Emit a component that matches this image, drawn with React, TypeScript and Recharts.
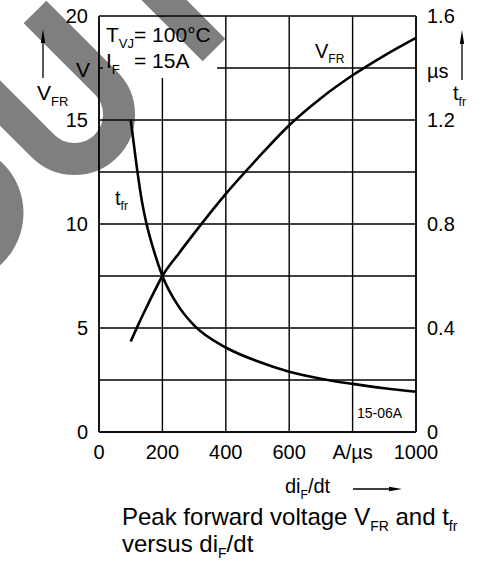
import React from "react";
import { LineChart, Line, XAxis, YAxis, CartesianGrid } from "recharts";

// di_F/dt (A/µs) and peak forward voltage V_FR (V)
const vfrDidt = [100, 125, 150, 175, 200, 250, 300, 400, 500, 600, 700, 800, 900, 1000];
const vfrVolts = [4.35, 5.2, 6.0, 6.77, 7.5, 8.55, 9.55, 11.45, 13.15, 14.75, 16.05, 17.15, 18.1, 18.95];

// di_F/dt (A/µs) and forward recovery time t_fr (µs)
const tfrDidt = [100, 118, 135, 150, 170, 200, 250, 300, 400, 500, 600, 700, 800, 900, 1000];
const tfrUs = [1.2, 1.03, 0.89, 0.8, 0.71, 0.6, 0.485, 0.41, 0.325, 0.272, 0.232, 0.205, 0.185, 0.168, 0.155];

const xTicks = [0, 200, 400, 600, 800, 1000];
const vTicks = [0, 2.5, 5, 7.5, 10, 12.5, 15, 17.5, 20];
const tTicks = [0, 0.4, 0.8, 1.2, 1.6];

const FONT = '"Liberation Sans", Arial, Helvetica, sans-serif';

const vfrRows = vfrDidt.map((x, i) => ({ x, v: vfrVolts[i] }));
const tfrRows = tfrDidt.map((x, i) => ({ x, t: tfrUs[i] }));

const tickStyle = { fontSize: 20, fill: "#000", fontFamily: FONT };

export default function App() {
  return (
    <div style={{ position: "absolute", left: 0, top: 0, width: 484, height: 571, background: "#fff", fontFamily: FONT }}>
      <LineChart width={484} height={571} margin={{ top: 16, right: 8, bottom: 109, left: 39 }}>
        <CartesianGrid yAxisId="v" xAxisId="x" stroke="#000" strokeWidth={1.4} />
        <XAxis
          xAxisId="x"
          dataKey="x"
          type="number"
          domain={[0, 1000]}
          ticks={xTicks}
          height={30}
          tickSize={0}
          tickMargin={13}
          axisLine={{ stroke: "#000", strokeWidth: 1.4 }}
          tickLine={false}
          tick={tickStyle}
          tickFormatter={(v: number) => (v === 800 ? "A/µs" : String(v))}
          interval={0}
        />
        <YAxis
          yAxisId="v"
          type="number"
          domain={[0, 20]}
          ticks={vTicks}
          width={60}
          tickSize={0}
          tickMargin={11}
          axisLine={{ stroke: "#000", strokeWidth: 1.4 }}
          tickLine={false}
          tick={tickStyle}
          interval={0}
          tickFormatter={(v: number) => (v % 5 === 0 ? String(v) : "")}
        />
        <YAxis
          yAxisId="t"
          orientation="right"
          type="number"
          domain={[0, 1.6]}
          ticks={tTicks}
          width={60}
          tickSize={0}
          tickMargin={11}
          axisLine={{ stroke: "#000", strokeWidth: 1.4 }}
          tickLine={false}
          tick={{ ...tickStyle, textAnchor: "start" }}
          interval={0}
          tickFormatter={(v: number) => (v === 0 ? "0" : v.toFixed(1))}
        />
        <Line
          xAxisId="x"
          yAxisId="v"
          data={vfrRows}
          dataKey="v"
          type="monotone"
          stroke="#000"
          strokeWidth={2.6}
          dot={false}
          activeDot={false}
          isAnimationActive={false}
        />
        <Line
          xAxisId="x"
          yAxisId="t"
          data={tfrRows}
          dataKey="t"
          type="monotone"
          stroke="#000"
          strokeWidth={2.6}
          dot={false}
          activeDot={false}
          isAnimationActive={false}
        />
      </LineChart>
      <svg
        width={484}
        height={571}
        style={{ position: "absolute", left: 0, top: 0, pointerEvents: "none" }}
        fontFamily={FONT}
      >
        {/* white box behind condition text */}
        <rect x={103} y={17} width={114} height={61} fill="#fff" />
        <text x={106} y={42} fontSize={21} fill="#000">
          T<tspan fontSize={13} dy={6}>VJ</tspan>
          <tspan dy={-6}>= 100°C</tspan>
        </text>
        <text x={106} y={68} fontSize={21} fill="#000">
          I<tspan fontSize={13} dy={6}>F</tspan>
          <tspan dy={-6} x={134}>= 15A</tspan>
        </text>

        {/* in-plot curve labels */}
        <text x={315} y={58} fontSize={20} fill="#000">
          V<tspan fontSize={12} dy={5}>FR</tspan>
        </text>
        <text x={115} y={205} fontSize={20} fill="#000">
          t<tspan fontSize={12} dy={5}>fr</tspan>
        </text>
        <text x={357} y={418} fontSize={14} fill="#000">15-06A</text>

        {/* left axis unit and label */}
        <text x={76} y={77} fontSize={21} fill="#000">V</text>
        <line x1={43} y1={40} x2={43} y2={78} stroke="#000" strokeWidth={1.3} />
        <polygon points="43,29 40.8,43 45.2,43" fill="#000" />
        <text x={37} y={100} fontSize={21} fill="#000">
          V<tspan fontSize={13} dy={6}>FR</tspan>
        </text>

        {/* right axis unit and label */}
        <text x={427} y={78} fontSize={20} fill="#000">µs</text>
        <line x1={462} y1={41} x2={462} y2={80} stroke="#000" strokeWidth={1.3} />
        <polygon points="462,30 459.8,44 464.2,44" fill="#000" />
        <text x={453} y={100} fontSize={20} fill="#000">
          t<tspan fontSize={12} dy={6}>fr</tspan>
        </text>

        {/* x axis label */}
        <text x={285} y={493} fontSize={20} fill="#000">
          di<tspan fontSize={12} dy={6}>F</tspan>
          <tspan dy={-6}>/dt</tspan>
        </text>
        <line x1={353} y1={489} x2={392} y2={489} stroke="#000" strokeWidth={1.3} />
        <polygon points="402,489 389,486.8 389,491.2" fill="#000" />

        {/* caption */}
        <text x={122} y={525} fontSize={24} fill="#000">
          Peak forward voltage V<tspan fontSize={14} dy={6}>FR</tspan>
          <tspan dy={-6}> and t</tspan>
          <tspan fontSize={14} dy={6}>fr</tspan>
        </text>
        <text x={122} y={552} fontSize={24} fill="#000">
          versus di<tspan fontSize={14} dy={6}>F</tspan>
          <tspan dy={-6}>/dt</tspan>
        </text>

        {/* watermark */}
        <g stroke="#000" strokeOpacity={0.5} fill="none" strokeWidth={32}>
          <path d="M 35 12 L 106 83 A 44.5 44.5 0 0 1 43 146 L -30 73" />
          <path d="M 214 50 L 150 -14" />
        </g>
        <circle cx={-46.5} cy={213} r={70} fill="#000" fillOpacity={0.5} />
      </svg>
    </div>
  );
}
